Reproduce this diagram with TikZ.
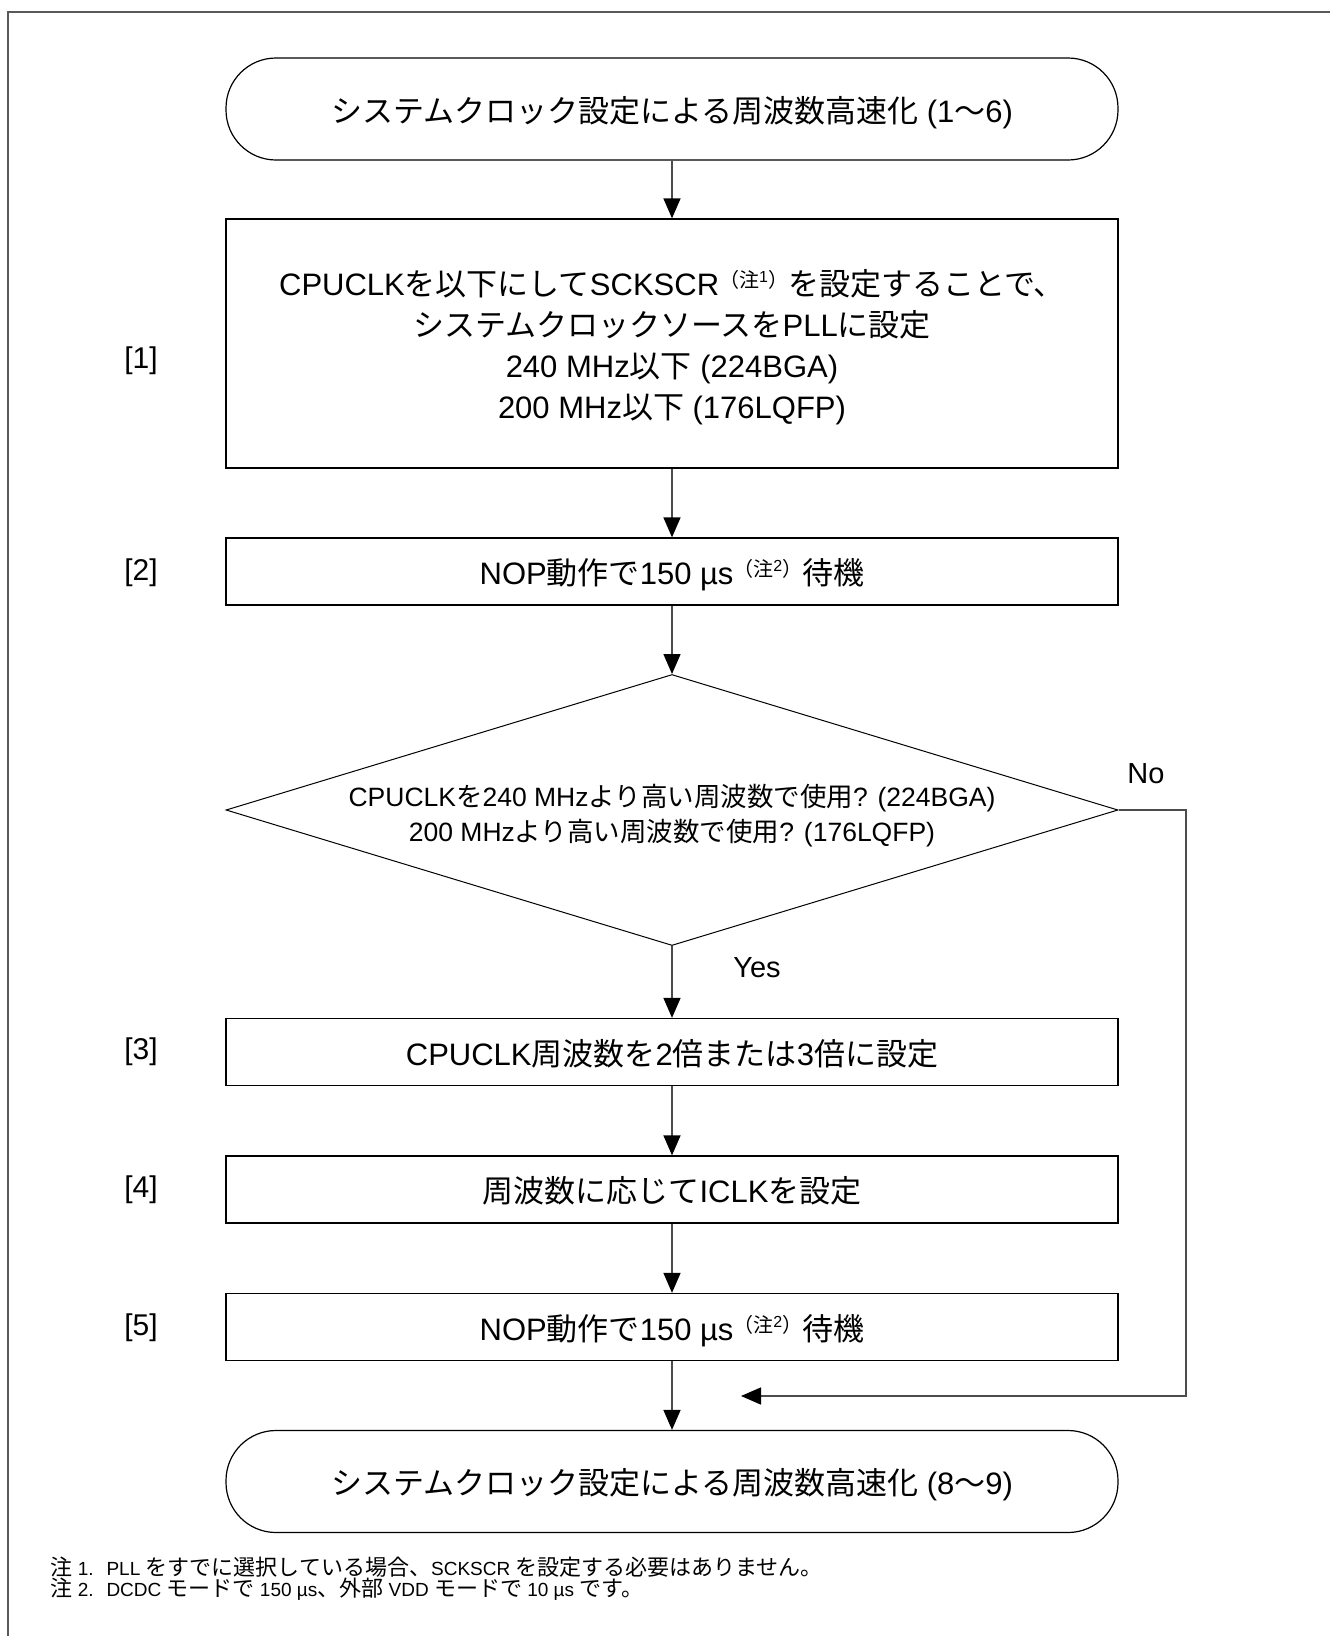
\documentclass[tikz,border=0pt]{standalone}
\usepackage{fontspec}
\setmainfont{Liberation Sans}
\newfontfamily\jpfont{Noto Sans CJK JP}
\usetikzlibrary{shapes.geometric,arrows.meta}
\newcommand{\ja}[1]{{\jpfont #1}}
% notes: the Japanese runs are set a little larger than the Latin ones
\newcommand{\jn}[1]{{\fontsize{22pt}{22pt}\selectfont\jpfont #1}}
\newcommand{\chu}[1]{\raisebox{0.25em}{\fontsize{20pt}{20pt}\selectfont\ja{（注}\raisebox{0.25em}{\fontsize{16pt}{16pt}\selectfont #1}\ja{）}}}

\begin{document}
\begin{tikzpicture}[x=1pt,y=-1pt,
    terminal/.style={draw,line width=1.2pt,rounded corners=50pt,text depth=0pt,
        minimum width=892pt,minimum height=102pt,font=\fontsize{31pt}{41pt}\selectfont},
    process/.style={draw,line width=1.3pt,minimum width=892pt,minimum height=67pt,
        text depth=0pt,align=center,font=\fontsize{31pt}{41pt}\selectfont},
    decision/.style={draw,diamond,aspect=3.3,line width=1pt,inner sep=0pt,
        minimum width=892pt,minimum height=271pt,align=center,text depth=0pt,
        font=\fontsize{26.5pt}{35pt}\selectfont},
    steplabel/.style={font=\fontsize{30pt}{36pt}\selectfont},
    answer/.style={font=\fontsize{29pt}{36pt}\selectfont},
    notetext/.style={anchor=west,font=\fontsize{19pt}{22pt}\selectfont},
    flow/.style={-{Triangle[length=20pt,width=17pt,color=black]},draw=black!70,line width=1.5pt},
    frame/.style={draw=black!65,line width=1.6pt}
]
    \useasboundingbox (0,0) rectangle (1330,1636);
    \draw[frame] (8,1636) -- (8,12) -- (1330,12);

    \node[terminal] (start) at (672,109)
        {\ja{システムクロック設定による周波数高速化} (1\ja{〜}6)};
    \node[process,minimum height=249pt] (set) at (672,343.5)
        {CPUCLK\ja{を以下にして}SCKSCR\chu{1}\ja{を設定することで、}\\
         \ja{システムクロックソースを}PLL\ja{に設定}\\
         240 MHz\ja{以下} (224BGA)\\
         200 MHz\ja{以下} (176LQFP)};
    \node[process] (wait) at (672,571.5)
        {NOP\ja{動作で}150 µs\chu{2}\ja{待機}};
    \node[decision] (check) at (672,810)
        {\rule{0pt}{27pt}CPUCLK\ja{を}240 MHz\ja{より高い周波数で使用}? (224BGA)\\
         200 MHz\ja{より高い周波数で使用}? (176LQFP)};
    \node[process] (mult) at (672,1052)
        {CPUCLK\ja{周波数を}2\ja{倍または}3\ja{倍に設定}};
    \node[process] (iclk) at (672,1189.5)
        {\ja{周波数に応じて}ICLK\ja{を設定}};
    \node[process] (wait2) at (672,1327)
        {NOP\ja{動作で}150 µs\chu{2}\ja{待機}};
    \node[terminal] (finish) at (672,1481.5)
        {\ja{システムクロック設定による周波数高速化} (8\ja{〜}9)};

    \node[steplabel] (n1) at (141,361) {[1]};
    \node[steplabel] (n2) at (141,573) {[2]};
    \node[steplabel] (n3) at (141,1052) {[3]};
    \node[steplabel] (n4) at (141,1190) {[4]};
    \node[steplabel] (n5) at (141,1328) {[5]};

    \node[answer] (no) at (1146,774) {No};
    \node[answer] (yes) at (757,968) {Yes};

    \coordinate (nocorner) at (1186,1396);
    \coordinate (join) at (741,1396);

    \draw[flow] (start) -- (set);
    \draw[flow] (set) -- (wait);
    \draw[flow] (wait) -- (check);
    \draw[flow] (check) -- (mult);
    \draw[flow] (mult) -- (iclk);
    \draw[flow] (iclk) -- (wait2);
    \draw[flow] (wait2) -- (finish);
    \draw[flow] (check.east) -| (nocorner) -- (join);

    \node[notetext] (note1) at (47,1567)
        {\makebox[56pt][l]{\jn{注} 1.}PLL \jn{をすでに選択している場合、}SCKSCR \jn{を設定する必要はありません。}};
    \node[notetext] (note2) at (47,1589)
        {\makebox[56pt][l]{\jn{注} 2.}DCDC \jn{モードで} 150 µs\jn{、外部} VDD \jn{モードで} 10 µs \jn{です。}};
\end{tikzpicture}
\end{document}
